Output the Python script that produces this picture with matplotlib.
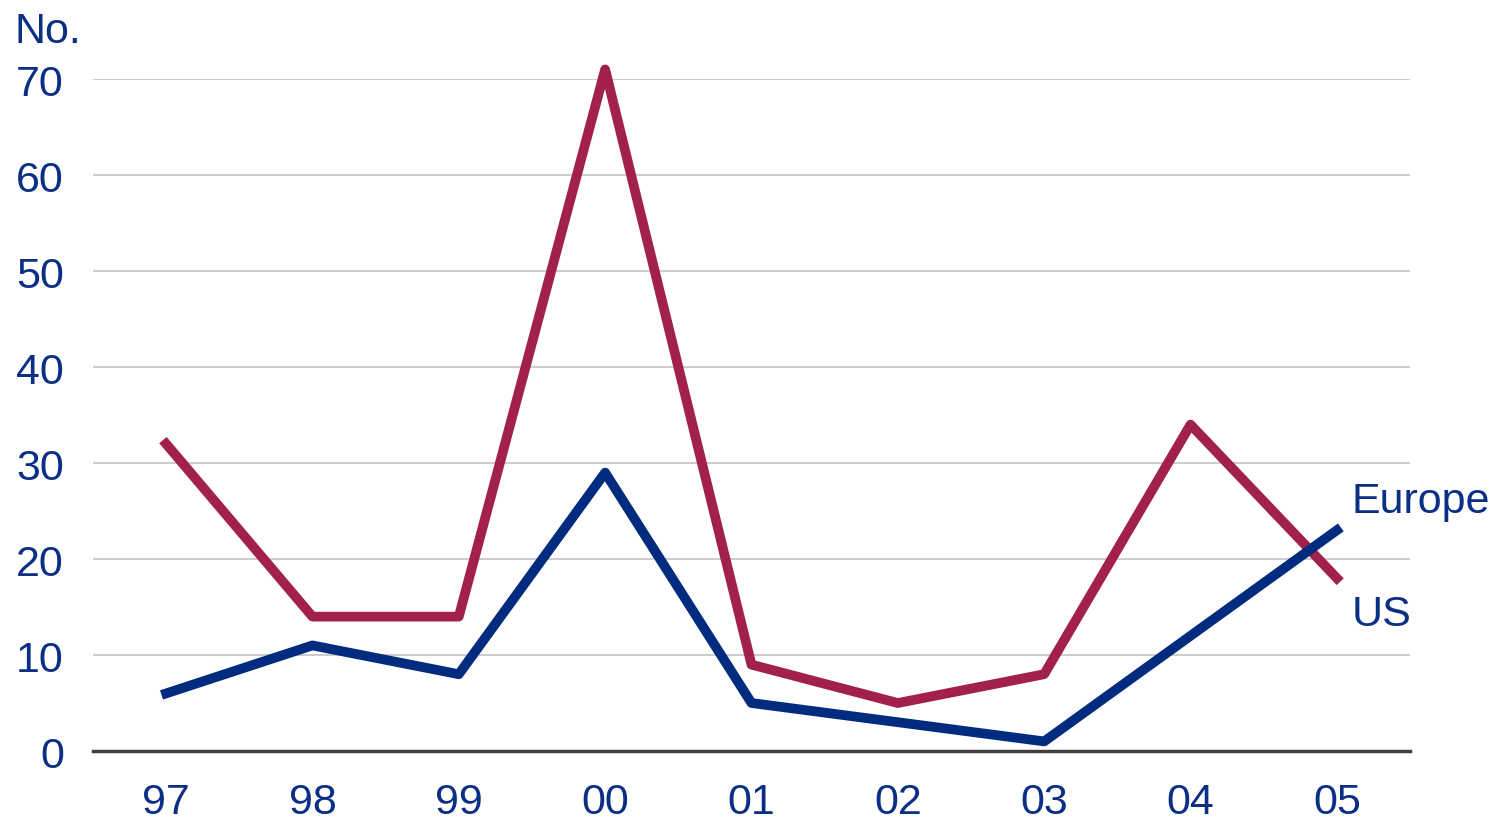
import matplotlib
matplotlib.use("Agg")
from matplotlib import pyplot as plt

years = ["97", "98", "99", "00", "01", "02", "03", "04", "05"]
us = [32, 14, 14, 71, 9, 5, 8, 34, 18]
europe = [6, 11, 8, 29, 5, 3, 1, 12, 23]
yticks = [0, 10, 20, 30, 40, 50, 60, 70]

navy = "#002B7F"
claret = "#A2204C"
text_col = "#0A2F85"

plt.rcParams["font.family"] = ["Liberation Sans", "DejaVu Sans"]

fig = plt.figure(figsize=(14.94, 8.2), dpi=100)
ax = fig.add_axes([0.0622, 0.0829, 0.8816, 0.8195])

x = list(range(len(years)))
ax.plot(x, us, color=claret, lw=7, solid_joinstyle="round", clip_on=False, zorder=3)
ax.plot(x, europe, color=navy, lw=7, solid_joinstyle="round", clip_on=False, zorder=4)

ax.set_xlim(-0.5, 8.5)
ax.set_ylim(0, 70)
ax.set_xticks(x)
ax.set_xticklabels(years)
ax.set_yticks(yticks)
ax.tick_params(axis="both", length=0, labelsize=31, labelcolor=text_col)
ax.tick_params(axis="x", pad=22)
ax.tick_params(axis="y", pad=21)
for lab in ax.get_yticklabels():
    lab.set_horizontalalignment("right")

ax.grid(axis="y", color="#C8C8C8", lw=1.3)
ax.set_axisbelow(True)
for side in ["top", "right", "left"]:
    ax.spines[side].set_visible(False)
ax.spines["bottom"].set_color("#404040")
ax.spines["bottom"].set_linewidth(2.5)
ax.spines["bottom"].set_zorder(2)

fig.text(0.010, 0.961, "No.", fontsize=31, color=text_col, va="center", ha="left")
ax.text(8.1, 26, "Europe", fontsize=31, color=text_col, va="center", ha="left")
ax.text(8.1, 14.3, "US", fontsize=31, color=text_col, va="center", ha="left")

fig.savefig("out.png", dpi=100)
